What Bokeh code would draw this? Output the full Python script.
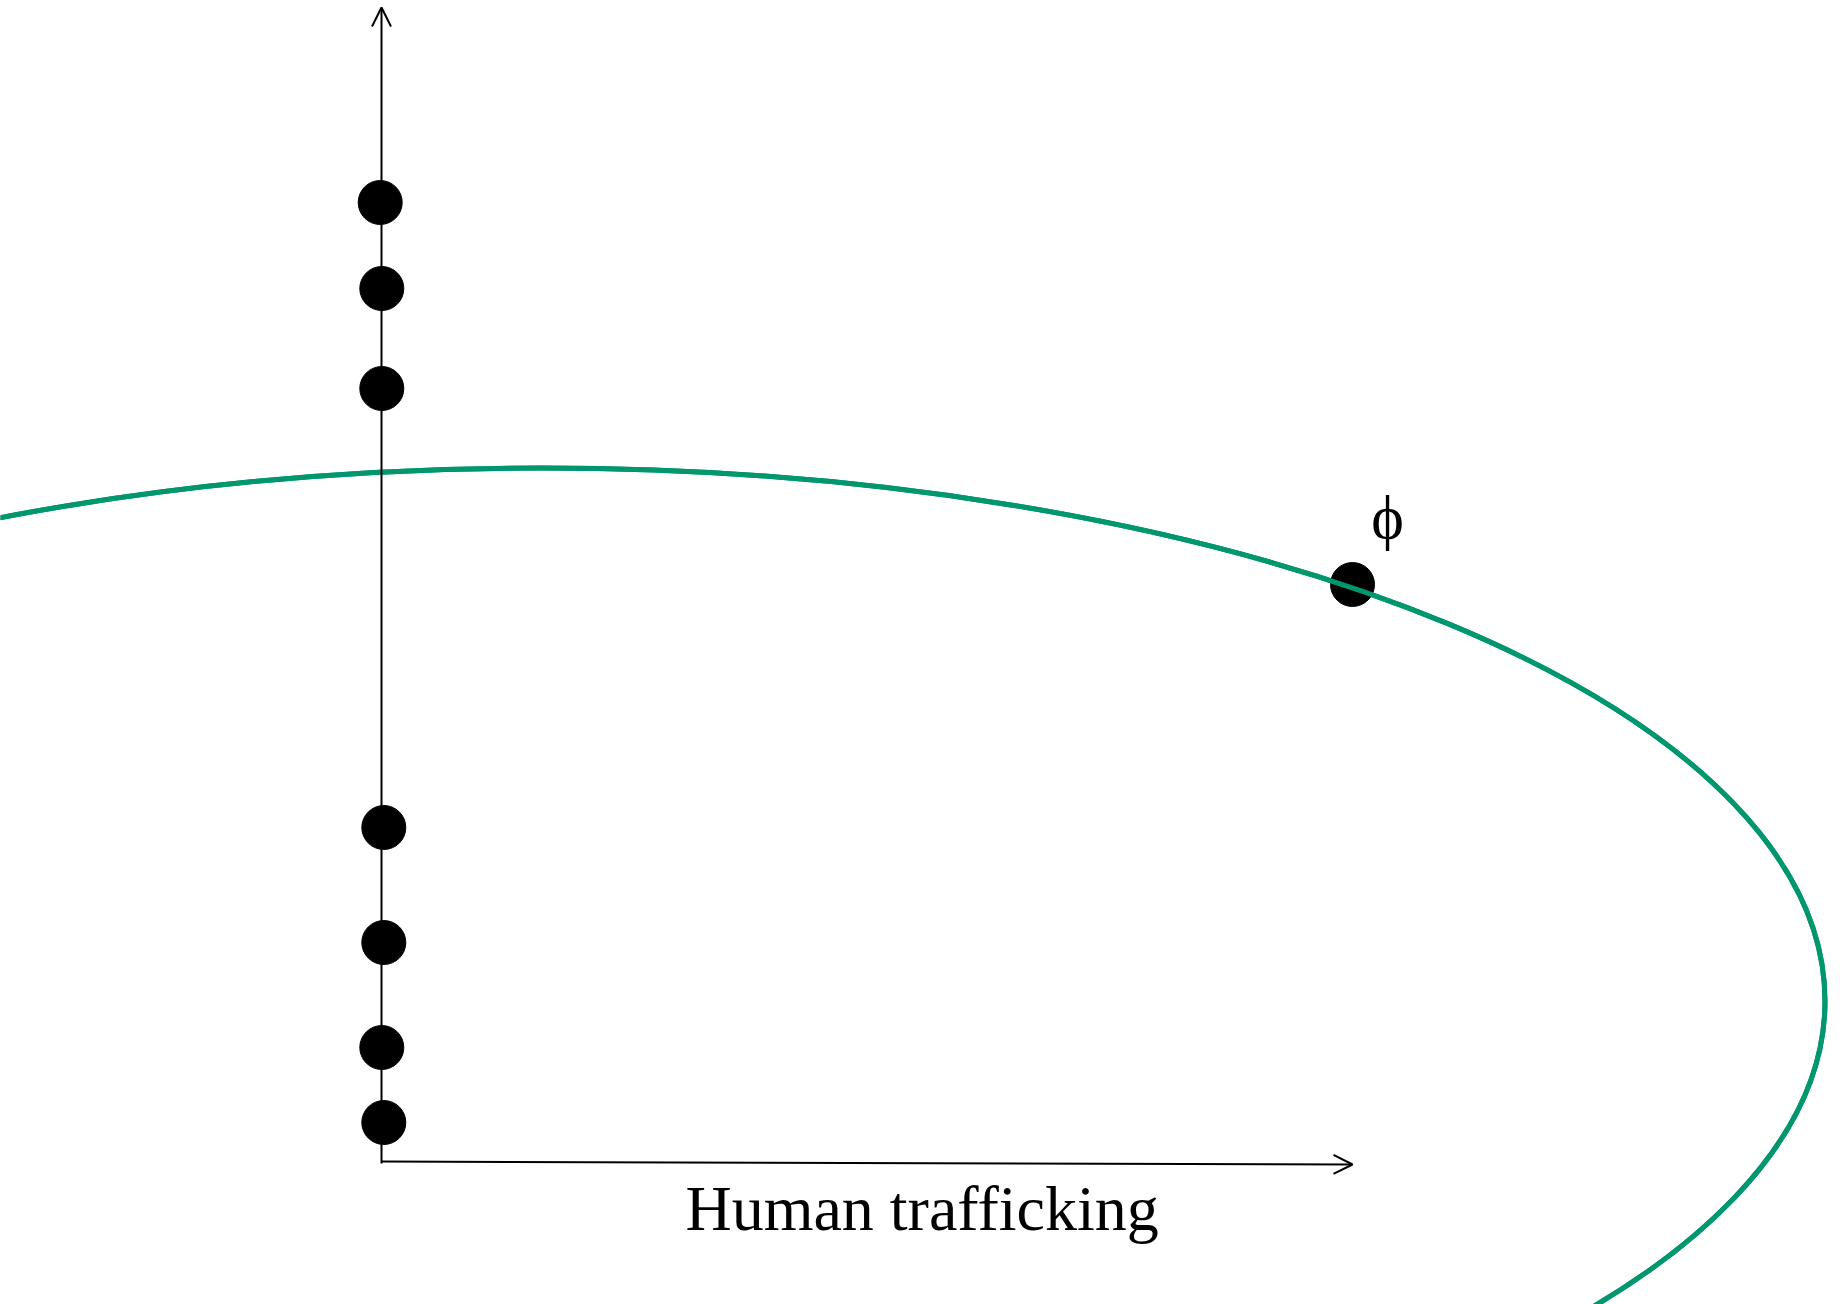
from bokeh.plotting import figure
from bokeh.models import Arrow, OpenHead, Range1d
from bokeh.core.properties import value
from bokeh.embed import file_html
from bokeh.resources import INLINE

# --- data (axis origin at 0,0) ---
axis_points_x = [-0.013, 0.003, 0.003, 0.023, 0.023, 0.003, 0.023]
axis_points_y = [9.59, 8.73, 7.73, 3.34, 2.19, 1.14, 0.39]
phi_point_x = [9.71]
phi_point_y = [5.77]
phi_label = ["ϕ"]
phi_label_x = [10.06]
phi_label_y = [6.45]
ellipse_center = [1.60, 1.605]
ellipse_size = [25.67, 10.66]
x_axis_label = ["Human trafficking"]
x_axis_label_x = [5.406]
x_axis_label_y = [-0.47]
x_axis_end = [9.71, -0.03]
y_axis_end = [0.0, 11.54]

GREEN = "#00966E"
FONT = value("Liberation Serif")

p = figure(width=1843, height=1304, output_backend="svg", toolbar_location=None,
           x_range=Range1d(-3.81, 14.62), y_range=Range1d(-1.43, 11.61),
           min_border=0, x_axis_type=None, y_axis_type=None)
p.outline_line_color = None
p.grid.visible = False
p.background_fill_color = "white"

# ellipse
p.ellipse(x=[ellipse_center[0]], y=[ellipse_center[1]],
          width=[ellipse_size[0]], height=[ellipse_size[1]],
          fill_color=None, line_color=GREEN, line_width=5)

# axes with arrows
p.add_layout(Arrow(end=OpenHead(size=19, line_width=2, line_color="black"),
                   x_start=0, y_start=-0.02, x_end=y_axis_end[0], y_end=y_axis_end[1],
                   line_width=2, line_color="black"))
p.add_layout(Arrow(end=OpenHead(size=19, line_width=2, line_color="black"),
                   x_start=0, y_start=0, x_end=x_axis_end[0], y_end=x_axis_end[1],
                   line_width=2, line_color="black"))

# points
p.scatter(axis_points_x, axis_points_y, size=44, color="black")
p.scatter(phi_point_x, phi_point_y, size=44, color="black")
# green line passes over the phi point in the reference
p.ellipse(x=[ellipse_center[0]], y=[ellipse_center[1]],
          width=[ellipse_size[0]], height=[ellipse_size[1]],
          fill_color=None, line_color=GREEN, line_width=5)

# labels
p.text(x=phi_label_x, y=phi_label_y, text=phi_label, text_font=FONT,
       text_font_size="62px", text_align="center", text_baseline="alphabetic",
       text_color="black")
p.text(x=x_axis_label_x, y=x_axis_label_y, text=x_axis_label, text_font=FONT,
       text_font_size="64px", text_align="center", text_baseline="alphabetic",
       text_color="black")

open("out.html", "w").write(file_html(p, INLINE))
